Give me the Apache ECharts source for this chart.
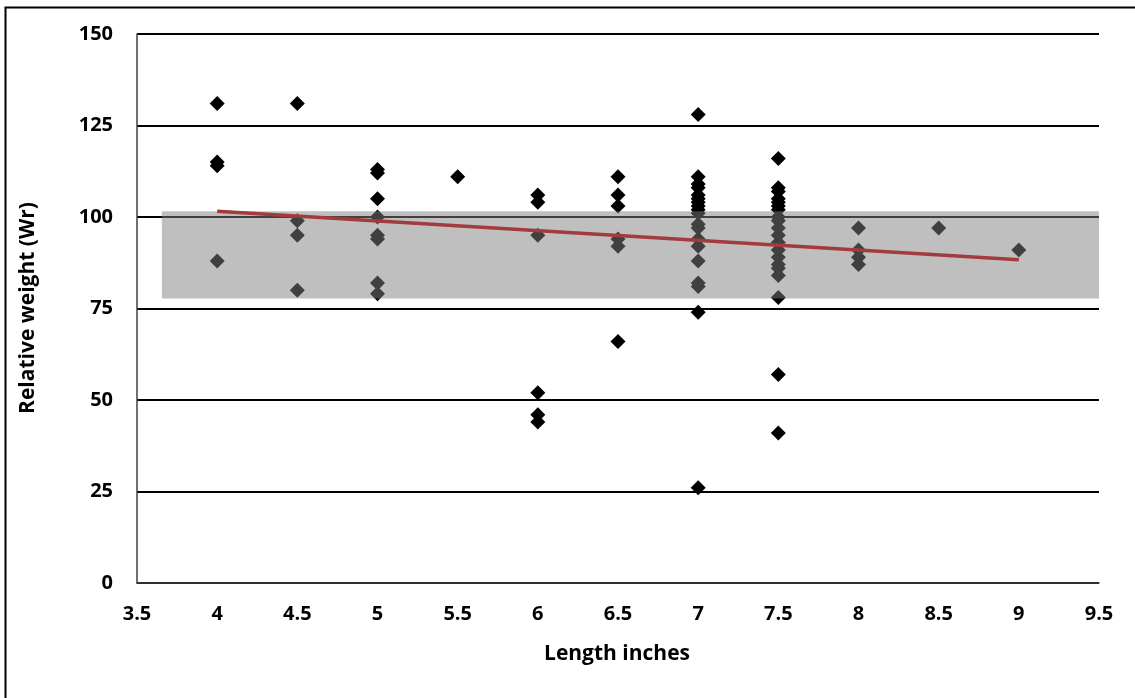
<!DOCTYPE html>
<html>
<head>
<meta charset="utf-8">
<script src="https://cdn.jsdelivr.net/npm/echarts@6/dist/echarts.min.js"></script>
<style>html,body{margin:0;padding:0;background:#fff;}#c{width:1135px;height:698px;}</style>
</head>
<body>
<div id="c"></div>
<script>
// Lengths (inches) and relative weights (Wr) measured at each length
const lengths = [4, 4.5, 5, 5.5, 6, 6.5, 7, 7.5, 8, 8.5, 9];
const wrAt4 = [131, 115, 114, 88];
const wrAt45 = [131, 99, 95, 80];
const wrAt5 = [113, 112, 105, 100, 95, 94, 82, 79];
const wrAt55 = [111];
const wrAt6 = [106, 104, 95, 52, 46, 44];
const wrAt65 = [111, 106, 103, 94, 92, 66];
const wrAt7 = [128, 111, 109, 108, 106, 105, 104, 103, 102, 101, 98, 97, 94, 92, 88, 82, 81, 74, 26];
const wrAt75 = [116, 108, 107, 105, 104, 103, 102, 100, 99, 97, 95, 93, 91, 89, 87, 86, 84, 78, 57, 41];
const wrAt8 = [97, 91, 89, 87];
const wrAt85 = [97];
const wrAt9 = [91];
const wrGroups = [wrAt4, wrAt45, wrAt5, wrAt55, wrAt6, wrAt65, wrAt7, wrAt75, wrAt8, wrAt85, wrAt9];

// Trend line end points
const trendX = [4, 9];
const trendY = [101.6, 88.3];

// Shaded acceptable range band
const bandX = [3.655, 9.5];
const bandY = [77.7, 101.6];

// Axis ticks
const xTicks = [3.5, 9.5, 0.5];
const yTicks = [0, 150, 25];

// Titles
const xTitle = 'Length inches';
const yTitle = 'Relative weight (Wr)';

const points = [];
lengths.forEach((len, i) => wrGroups[i].forEach(w => points.push([len, w])));
const trend = trendX.map((x, i) => [x, trendY[i]]);

const font = '"Open Sans", "Liberation Sans", sans-serif';
const chart = echarts.init(document.getElementById('c'), null, {renderer: 'canvas'});
chart.setOption({
  animation: false,
  backgroundColor: '#fff',
  grid: {left: 137, right: 36, top: 34, bottom: 115, containLabel: false},
  graphic: [
    {
      type: 'rect', left: 3, top: 5, z: 100,
      shape: {width: 1150, height: 710},
      style: {fill: 'none', stroke: '#000', lineWidth: 2}
    },
    {
      type: 'text', x: 617, y: 654, z: 100,
      style: {text: xTitle, font: 'bold 21px ' + font, fill: '#000', textAlign: 'center', textVerticalAlign: 'middle'}
    },
    {
      type: 'text', x: 28, y: 308, rotation: Math.PI / 2, z: 100,
      style: {text: yTitle, font: 'bold 21px ' + font, fill: '#000', textAlign: 'center', textVerticalAlign: 'middle'}
    }
  ],
  xAxis: {
    type: 'value', min: xTicks[0], max: xTicks[1], interval: xTicks[2],
    axisLine: {show: true, onZero: false, lineStyle: {color: '#404040', width: 1.5}},
    axisTick: {show: false},
    splitLine: {show: false},
    axisLabel: {fontFamily: font, fontWeight: 'bold', fontSize: 20, color: '#000', margin: 21}
  },
  yAxis: {
    type: 'value', min: yTicks[0], max: yTicks[1], interval: yTicks[2],
    axisLine: {show: true, lineStyle: {color: '#404040', width: 1.5}},
    axisTick: {show: false},
    splitLine: {show: true, lineStyle: {color: '#000', width: 1.8}},
    axisLabel: {fontFamily: font, fontWeight: 'bold', fontSize: 20, color: '#000', margin: 24}
  },
  series: [
    {
      type: 'scatter', z: 2,
      symbol: 'diamond', symbolSize: 15,
      itemStyle: {color: '#000', opacity: 1},
      data: points
    },
    {
      type: 'line', z: 5, data: [],
      markArea: {
        silent: true, z: 5,
        itemStyle: {color: 'rgba(128,128,128,0.5)'},
        data: [[{coord: [bandX[0], bandY[0]]}, {coord: [bandX[1], bandY[1]]}]]
      }
    },
    {
      type: 'line', z: 10, data: trend,
      symbol: 'none',
      lineStyle: {color: '#A33B3E', width: 3.5},
      itemStyle: {color: '#A33B3E'}
    }
  ]
});
</script>
</body>
</html>
